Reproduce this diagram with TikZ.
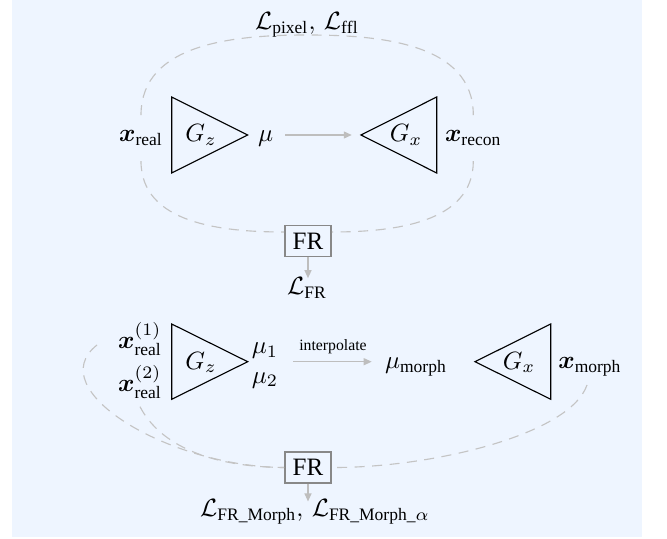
\documentclass[tikz,border=0pt]{standalone}
\usepackage{amsmath}
\usepackage{fontspec}
\setmainfont{Liberation Serif}
\usetikzlibrary{arrows.meta}
\definecolor{bg}{RGB}{238,245,255}
\definecolor{dashc}{RGB}{196,196,196}
\definecolor{arrc}{RGB}{190,190,190}
\definecolor{boxc}{RGB}{136,136,136}
\begin{document}
\begin{tikzpicture}[x=0.4pt,y=-0.4pt,
  txt/.style={anchor=base,inner sep=2pt},
  xtop/.style={anchor=base,inner xsep=2pt,inner ysep=6pt},
  tri/.style={draw=black,line width=0.45pt,line join=miter},
  loss/.style={draw=dashc,dash pattern=on 4pt off 3pt,line width=0.45pt},
  arr/.style={draw=arrc,line width=0.5pt,-{Triangle[length=3.2pt,width=2.8pt]}},
  frbox/.style={draw=boxc,line width=0.7pt,fill=bg,minimum width=18.4pt,minimum height=12.4pt,inner sep=0pt}]
\useasboundingbox (0,0) rectangle (667,539);
\fill[bg] (12,0) rectangle (642,537);

% ---------- top diagram ----------
\node[txt] (lpix) at (307,29.5) {$\mathcal{L}_{\mathrm{pixel}},\, \mathcal{L}_{\mathrm{ffl}}$};
\node[xtop] (xr) at (141,141.7) {$\boldsymbol{x}_{\mathrm{real}}$};
\draw[tri] (171.7,97) -- (171.7,173) -- (247.7,135) -- cycle;
\node[txt] (gz1) at (201,142) {$G_z$};
\node[txt] (mu) at (265.7,141.7) {$\mu$};
\draw[tri] (361,135) -- (436.7,97) -- (436.7,173) -- cycle;
\coordinate (gx1tip) at (361,135);
\node[txt] (gx1) at (406,142) {$G_x$};
\node[xtop] (xrec) at (473.3,141.7) {$\boldsymbol{x}_{\mathrm{recon}}$};
\coordinate (a1s) at (285,135);
\draw[arr,shorten >=3.7pt] (a1s) -- (gx1tip);

\coordinate (top1) at (307,35);
\draw[loss] (xr.north) to[out=90,in=180] (top1) to[out=0,in=90] (xrec.north);
\node[frbox] (fr1) at (308,241) {FR};
\draw[loss] (xr.south) to[out=-90,in=180] ([yshift=3.6pt]fr1.west);
\draw[loss] (xrec.south) to[out=-90,in=0] ([yshift=3.6pt]fr1.east);
\node[anchor=base,inner sep=0.5pt] (lfr) at (307,294.5) {$\mathcal{L}_{\mathrm{FR}}$};
\draw[arr,shorten >=-1pt] (fr1.south) -- (fr1.south |- lfr.north);

% ---------- bottom diagram ----------
\node[txt,inner sep=3pt] (xr1) at (140,348.3) {$\boldsymbol{x}^{(1)}_{\mathrm{real}}$};
\node[txt,inner sep=3pt] (xr2) at (140,391) {$\boldsymbol{x}^{(2)}_{\mathrm{real}}$};
\draw[tri] (171.7,324) -- (171.7,399.3) -- (247.7,361.7) -- cycle;
\node[txt] (gz2) at (201,369) {$G_z$};
\node[txt] (mu1) at (265,353.5) {$\mu_1$};
\node[txt] (mu2) at (265,383) {$\mu_2$};
\coordinate (ip) at (293,361.7);
\coordinate (ipend) at (371.7,361.7);
\node[txt] (mum) at (416,368.5) {$\mu_{\mathrm{morph}}$};
\draw[arr] (ip) -- (ipend);
\node[anchor=base,inner sep=1pt,font=\fontsize{6.3}{7}\selectfont] (ipl) at (333,350) {interpolate};
\draw[tri] (475,361.7) -- (550.7,324) -- (550.7,399.3) -- cycle;
\node[txt] (gx2) at (519,369) {$G_x$};
\node[txt] (xm) at (590,368.5) {$\boldsymbol{x}_{\mathrm{morph}}$};

\node[frbox] (fr2) at (308,467.5) {FR};
\coordinate (s1) at (97,345);
\coordinate (s3) at (587,385);
\draw[loss] (s1) .. controls (40,390) and (170,467) .. (fr2.west);
\draw[loss] (xr2.south) .. controls (160,445) and (210,467) .. (fr2.west);
\draw[loss] (s3) .. controls (570,435) and (430,468) .. (fr2.east);
\node[anchor=base,inner sep=0.5pt] (lm) at (315,516.5) {$\mathcal{L}_{\mathrm{FR\_Morph}},\, \mathcal{L}_{\mathrm{FR\_Morph\_}\alpha}$};
\draw[arr,shorten >=-1.5pt] (fr2.south) -- (fr2.south |- lm.north);
\end{tikzpicture}
\end{document}
